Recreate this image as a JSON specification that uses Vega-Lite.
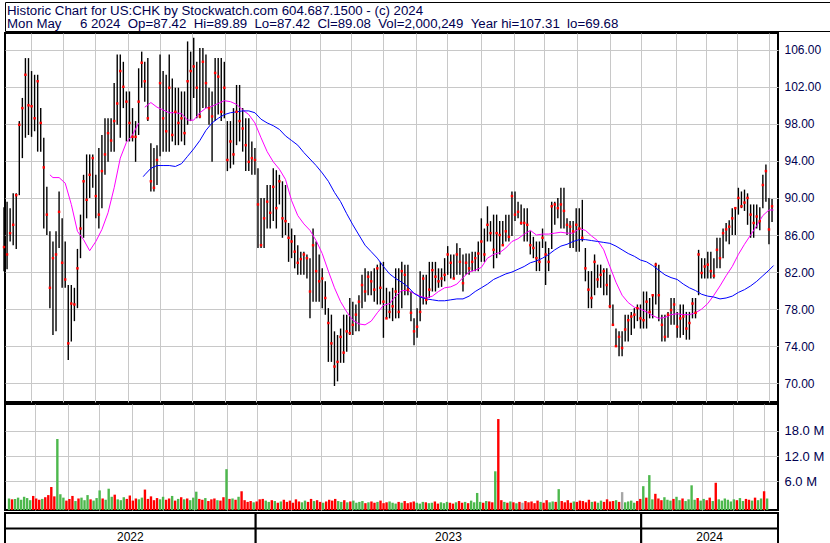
{
"$schema": "https://vega.github.io/schema/vega-lite/v6.json",
"padding": {"left": 1, "top": 1, "right": 0, "bottom": 0},
"background": "white",
"spacing": 0,
"config": {
  "font": "Liberation Sans",
  "view": {"stroke": "black", "strokeWidth": 2},
  "axis": {"gridColor": "#c8c8c8", "gridWidth": 1, "ticks": false, "domain": false, "labelFont": "Liberation Sans", "minExtent": 0}
},
"datasets": {
  "hdr": [
    {"line": 1, "txt": "Historic Chart for US:CHK by Stockwatch.com 604.687.1500 - (c) 2024"},
    {"line": 2, "txt": "Mon May\u00a0\u00a0\u00a0\u00a0 6 2024\u00a0\u00a0Op=87.42\u00a0\u00a0Hi=89.89\u00a0\u00a0Lo=87.42\u00a0\u00a0Cl=89.08\u00a0\u00a0Vol=2,000,249\u00a0\u00a0Year hi=107.31\u00a0\u00a0lo=69.68"}
  ],
  "years": [
    {"yr": "2022", "s": 0.65, "e": 164.5},
    {"yr": "2023", "s": 164.5, "e": 416.5},
    {"yr": "2024", "s": 416.5, "e": 505.9}
  ],
  "bars": [
{"d":0,"h":89.0,"l":82.1,"c":84.7,"v":2.0,"u":1},
{"d":2,"h":89.6,"l":82.3,"c":83.9,"v":1.8,"u":0},
{"d":4,"h":88.9,"l":85.3,"c":86.2,"v":1.9,"u":1},
{"d":6,"h":90.5,"l":84.9,"c":87.1,"v":2.2,"u":1},
{"d":8,"h":90.5,"l":84.5,"c":90.3,"v":1.7,"u":1},
{"d":10,"h":98.3,"l":90.3,"c":97.9,"v":2.4,"u":1},
{"d":12,"h":100.8,"l":94.3,"c":99.7,"v":2.1,"u":1},
{"d":14,"h":105.1,"l":96.5,"c":103.3,"v":1.6,"u":1},
{"d":16,"h":105.1,"l":96.8,"c":100.0,"v":2.6,"u":0},
{"d":18,"h":103.7,"l":96.6,"c":99.9,"v":2.0,"u":0},
{"d":20,"h":103.3,"l":97.2,"c":98.6,"v":1.7,"u":0},
{"d":22,"h":103.3,"l":95.0,"c":102.6,"v":1.9,"u":1},
{"d":24,"h":99.7,"l":95.0,"c":98.1,"v":2.3,"u":0},
{"d":26,"h":96.5,"l":86.7,"c":93.3,"v":2.8,"u":0},
{"d":28,"h":91.2,"l":86.0,"c":88.2,"v":4.7,"u":0},
{"d":30,"h":86.4,"l":78.1,"c":80.3,"v":2.5,"u":0},
{"d":32,"h":85.3,"l":75.2,"c":83.5,"v":16.0,"u":1},
{"d":34,"h":86.4,"l":75.6,"c":83.9,"v":3.0,"u":1},
{"d":36,"h":90.7,"l":84.6,"c":88.5,"v":2.2,"u":1},
{"d":38,"h":87.8,"l":80.3,"c":83.0,"v":1.5,"u":0},
{"d":40,"h":85.3,"l":80.3,"c":81.2,"v":1.9,"u":0},
{"d":42,"h":80.6,"l":72.5,"c":74.3,"v":2.6,"u":0},
{"d":44,"h":80.6,"l":74.5,"c":78.6,"v":1.4,"u":1},
{"d":46,"h":80.3,"l":76.7,"c":78.5,"v":2.0,"u":0},
{"d":48,"h":84.5,"l":78.1,"c":82.4,"v":2.2,"u":1},
{"d":50,"h":88.2,"l":83.5,"c":86.7,"v":1.6,"u":1},
{"d":52,"h":92.5,"l":85.7,"c":91.8,"v":2.8,"u":1},
{"d":54,"h":94.7,"l":87.8,"c":89.8,"v":1.8,"u":0},
{"d":56,"h":94.7,"l":90.0,"c":92.5,"v":1.5,"u":1},
{"d":58,"h":94.7,"l":91.1,"c":94.3,"v":2.1,"u":1},
{"d":60,"h":92.5,"l":87.8,"c":90.2,"v":3.9,"u":1},
{"d":62,"h":95.4,"l":86.7,"c":88.2,"v":2.0,"u":0},
{"d":64,"h":96.8,"l":88.9,"c":92.9,"v":1.7,"u":1},
{"d":66,"h":98.6,"l":92.5,"c":94.7,"v":4.3,"u":1},
{"d":68,"h":98.6,"l":93.9,"c":97.0,"v":2.4,"u":1},
{"d":70,"h":98.6,"l":95.0,"c":96.2,"v":2.9,"u":0},
{"d":72,"h":102.4,"l":95.0,"c":98.3,"v":1.8,"u":1},
{"d":74,"h":105.5,"l":97.9,"c":100.2,"v":1.6,"u":1},
{"d":76,"h":105.5,"l":96.5,"c":103.7,"v":2.3,"u":1},
{"d":78,"h":104.7,"l":99.7,"c":102.0,"v":1.9,"u":0},
{"d":80,"h":101.5,"l":96.1,"c":100.4,"v":2.7,"u":0},
{"d":82,"h":101.5,"l":96.1,"c":98.1,"v":1.5,"u":0},
{"d":84,"h":99.7,"l":96.1,"c":96.6,"v":2.0,"u":0},
{"d":86,"h":98.3,"l":93.9,"c":96.6,"v":1.8,"u":1},
{"d":88,"h":104.0,"l":96.8,"c":100.4,"v":2.2,"u":1},
{"d":90,"h":105.8,"l":101.9,"c":104.6,"v":4.1,"u":0},
{"d":92,"h":104.7,"l":100.4,"c":102.6,"v":1.9,"u":0},
{"d":94,"h":105.1,"l":98.3,"c":98.6,"v":2.5,"u":0},
{"d":96,"h":95.9,"l":90.7,"c":91.8,"v":1.6,"u":0},
{"d":98,"h":95.4,"l":90.7,"c":91.1,"v":2.1,"u":0},
{"d":100,"h":95.7,"l":91.4,"c":94.1,"v":1.8,"u":1},
{"d":102,"h":105.5,"l":94.5,"c":102.4,"v":2.4,"u":1},
{"d":104,"h":103.7,"l":95.0,"c":98.6,"v":1.7,"u":0},
{"d":106,"h":103.3,"l":95.0,"c":97.2,"v":2.0,"u":0},
{"d":108,"h":105.5,"l":95.0,"c":101.9,"v":2.6,"u":1},
{"d":110,"h":102.9,"l":96.1,"c":96.8,"v":1.5,"u":0},
{"d":112,"h":101.9,"l":95.7,"c":99.3,"v":1.9,"u":1},
{"d":114,"h":101.9,"l":95.7,"c":98.1,"v":2.3,"u":0},
{"d":116,"h":101.5,"l":96.1,"c":98.6,"v":1.8,"u":1},
{"d":118,"h":101.5,"l":95.7,"c":97.0,"v":2.0,"u":0},
{"d":120,"h":106.9,"l":97.9,"c":102.6,"v":1.6,"u":1},
{"d":122,"h":105.8,"l":98.3,"c":103.7,"v":2.2,"u":1},
{"d":124,"h":107.3,"l":100.8,"c":104.2,"v":3.6,"u":1},
{"d":126,"h":104.7,"l":98.6,"c":101.9,"v":1.9,"u":0},
{"d":128,"h":106.2,"l":98.6,"c":98.8,"v":1.7,"u":0},
{"d":130,"h":106.2,"l":99.7,"c":104.7,"v":2.1,"u":1},
{"d":132,"h":105.5,"l":99.7,"c":102.4,"v":1.4,"u":0},
{"d":134,"h":101.9,"l":97.9,"c":99.7,"v":1.8,"u":0},
{"d":136,"h":101.5,"l":93.9,"c":98.8,"v":2.0,"u":0},
{"d":138,"h":105.1,"l":98.3,"c":103.5,"v":1.6,"u":1},
{"d":140,"h":105.1,"l":99.0,"c":103.1,"v":1.5,"u":0},
{"d":142,"h":105.1,"l":98.3,"c":99.3,"v":2.3,"u":0},
{"d":144,"h":104.7,"l":98.6,"c":101.9,"v":8.9,"u":1},
{"d":146,"h":98.3,"l":92.9,"c":94.1,"v":1.9,"u":0},
{"d":148,"h":98.3,"l":93.2,"c":96.1,"v":2.0,"u":1},
{"d":150,"h":99.7,"l":93.6,"c":94.7,"v":1.7,"u":0},
{"d":152,"h":102.2,"l":95.7,"c":99.3,"v":2.4,"u":1},
{"d":154,"h":102.2,"l":96.1,"c":98.3,"v":3.7,"u":0},
{"d":156,"h":99.7,"l":95.0,"c":97.5,"v":1.6,"u":0},
{"d":158,"h":98.6,"l":92.9,"c":95.7,"v":1.2,"u":0},
{"d":160,"h":98.6,"l":92.9,"c":93.9,"v":1.4,"u":0},
{"d":162,"h":96.1,"l":92.5,"c":94.3,"v":1.1,"u":1},
{"d":164,"h":95.4,"l":92.5,"c":94.1,"v":1.3,"u":0},
{"d":166,"h":93.2,"l":84.6,"c":89.3,"v":1.8,"u":0},
{"d":168,"h":90.0,"l":84.6,"c":84.9,"v":1.9,"u":0},
{"d":170,"h":90.0,"l":84.6,"c":87.8,"v":1.5,"u":1},
{"d":172,"h":91.4,"l":86.7,"c":89.6,"v":1.2,"u":1},
{"d":174,"h":91.4,"l":86.7,"c":88.4,"v":1.6,"u":0},
{"d":176,"h":93.2,"l":87.5,"c":91.2,"v":1.4,"u":1},
{"d":178,"h":93.0,"l":86.7,"c":88.9,"v":1.0,"u":0},
{"d":180,"h":92.5,"l":89.3,"c":91.8,"v":1.3,"u":1},
{"d":182,"h":91.8,"l":85.7,"c":87.8,"v":1.7,"u":0},
{"d":184,"h":91.4,"l":86.0,"c":87.5,"v":1.2,"u":0},
{"d":186,"h":87.3,"l":83.1,"c":85.7,"v":1.5,"u":0},
{"d":188,"h":86.7,"l":83.5,"c":85.3,"v":1.0,"u":0},
{"d":190,"h":86.0,"l":82.4,"c":84.2,"v":1.8,"u":0},
{"d":192,"h":84.9,"l":81.7,"c":83.0,"v":1.3,"u":0},
{"d":194,"h":84.2,"l":81.7,"c":83.4,"v":1.1,"u":1},
{"d":196,"h":84.2,"l":81.7,"c":83.9,"v":1.5,"u":1},
{"d":198,"h":83.9,"l":81.3,"c":83.5,"v":1.2,"u":0},
{"d":200,"h":83.5,"l":77.0,"c":79.9,"v":1.9,"u":0},
{"d":202,"h":86.7,"l":78.8,"c":84.9,"v":1.4,"u":1},
{"d":204,"h":85.3,"l":78.8,"c":82.1,"v":1.6,"u":0},
{"d":206,"h":83.9,"l":78.8,"c":81.0,"v":1.2,"u":0},
{"d":208,"h":82.4,"l":78.1,"c":81.3,"v":1.0,"u":1},
{"d":210,"h":81.0,"l":77.4,"c":79.2,"v":1.3,"u":0},
{"d":212,"h":78.1,"l":72.3,"c":76.5,"v":1.7,"u":0},
{"d":214,"h":77.4,"l":72.3,"c":74.3,"v":1.5,"u":0},
{"d":216,"h":75.6,"l":69.7,"c":71.8,"v":1.9,"u":0},
{"d":218,"h":75.2,"l":70.2,"c":72.3,"v":1.4,"u":1},
{"d":220,"h":75.9,"l":72.2,"c":75.0,"v":1.2,"u":1},
{"d":222,"h":77.4,"l":72.2,"c":73.3,"v":1.6,"u":0},
{"d":224,"h":77.4,"l":73.4,"c":75.6,"v":1.1,"u":1},
{"d":226,"h":79.2,"l":75.2,"c":75.4,"v":1.3,"u":0},
{"d":228,"h":78.8,"l":75.2,"c":76.3,"v":1.5,"u":1},
{"d":230,"h":78.5,"l":75.6,"c":77.4,"v":1.0,"u":1},
{"d":232,"h":79.5,"l":75.6,"c":78.8,"v":1.2,"u":1},
{"d":234,"h":81.7,"l":78.1,"c":80.6,"v":1.4,"u":1},
{"d":236,"h":82.4,"l":78.8,"c":79.9,"v":0.9,"u":0},
{"d":238,"h":82.1,"l":79.5,"c":81.5,"v":1.1,"u":1},
{"d":240,"h":82.1,"l":79.5,"c":81.0,"v":1.3,"u":0},
{"d":242,"h":82.4,"l":78.8,"c":80.1,"v":1.0,"u":0},
{"d":244,"h":82.8,"l":78.5,"c":82.4,"v":1.2,"u":1},
{"d":246,"h":83.1,"l":78.5,"c":80.3,"v":1.5,"u":0},
{"d":248,"h":83.1,"l":74.9,"c":78.8,"v":0.9,"u":0},
{"d":250,"h":80.3,"l":77.0,"c":77.0,"v":1.1,"u":0},
{"d":252,"h":79.9,"l":77.0,"c":77.7,"v":1.3,"u":1},
{"d":254,"h":80.3,"l":76.7,"c":78.3,"v":1.0,"u":1},
{"d":256,"h":82.4,"l":77.0,"c":79.9,"v":0.8,"u":1},
{"d":258,"h":82.4,"l":77.0,"c":77.7,"v":1.2,"u":0},
{"d":260,"h":83.1,"l":78.1,"c":82.1,"v":1.0,"u":1},
{"d":262,"h":82.8,"l":79.5,"c":81.7,"v":1.4,"u":0},
{"d":264,"h":82.8,"l":79.5,"c":80.1,"v":0.9,"u":0},
{"d":266,"h":79.9,"l":76.7,"c":77.6,"v":1.1,"u":0},
{"d":268,"h":77.0,"l":74.1,"c":75.6,"v":1.3,"u":0},
{"d":270,"h":78.1,"l":74.9,"c":76.1,"v":1.0,"u":1},
{"d":272,"h":82.1,"l":76.7,"c":77.7,"v":0.8,"u":1},
{"d":274,"h":81.7,"l":78.5,"c":81.3,"v":1.2,"u":1},
{"d":276,"h":81.7,"l":78.5,"c":79.0,"v":1.1,"u":0},
{"d":278,"h":83.1,"l":79.2,"c":80.1,"v":0.9,"u":1},
{"d":280,"h":83.1,"l":79.9,"c":82.2,"v":1.0,"u":1},
{"d":282,"h":83.1,"l":79.9,"c":81.5,"v":1.3,"u":0},
{"d":284,"h":82.4,"l":80.3,"c":81.0,"v":0.8,"u":0},
{"d":286,"h":82.4,"l":80.4,"c":81.3,"v":1.1,"u":1},
{"d":288,"h":83.5,"l":81.0,"c":81.7,"v":0.9,"u":1},
{"d":290,"h":84.8,"l":81.7,"c":83.9,"v":1.2,"u":1},
{"d":292,"h":83.9,"l":81.3,"c":83.0,"v":1.0,"u":0},
{"d":294,"h":83.9,"l":81.3,"c":81.3,"v":0.8,"u":0},
{"d":296,"h":85.1,"l":81.7,"c":83.9,"v":1.1,"u":1},
{"d":298,"h":84.6,"l":81.7,"c":83.1,"v":1.4,"u":0},
{"d":300,"h":83.9,"l":79.9,"c":80.8,"v":1.0,"u":0},
{"d":302,"h":84.0,"l":81.7,"c":83.0,"v":1.2,"u":1},
{"d":304,"h":84.0,"l":81.7,"c":82.4,"v":0.9,"u":0},
{"d":306,"h":84.2,"l":82.1,"c":83.1,"v":1.5,"u":1},
{"d":308,"h":84.2,"l":82.1,"c":83.5,"v":1.1,"u":1},
{"d":310,"h":85.3,"l":82.1,"c":84.0,"v":3.3,"u":1},
{"d":312,"h":87.8,"l":83.1,"c":85.3,"v":1.2,"u":1},
{"d":314,"h":86.7,"l":83.1,"c":83.9,"v":1.0,"u":0},
{"d":316,"h":89.1,"l":85.3,"c":87.1,"v":1.4,"u":1},
{"d":318,"h":87.5,"l":85.3,"c":86.2,"v":1.3,"u":0},
{"d":320,"h":88.2,"l":82.4,"c":84.4,"v":1.1,"u":0},
{"d":322,"h":88.2,"l":83.5,"c":86.2,"v":8.4,"u":1},
{"d":324,"h":87.5,"l":83.9,"c":86.0,"v":20.7,"u":0},
{"d":326,"h":87.5,"l":84.9,"c":84.9,"v":1.6,"u":0},
{"d":328,"h":88.2,"l":85.3,"c":86.4,"v":1.2,"u":1},
{"d":330,"h":88.2,"l":85.3,"c":85.8,"v":1.0,"u":0},
{"d":332,"h":90.7,"l":85.9,"c":90.2,"v":1.3,"u":1},
{"d":334,"h":90.7,"l":87.5,"c":88.2,"v":1.1,"u":0},
{"d":336,"h":89.6,"l":87.8,"c":88.5,"v":0.9,"u":1},
{"d":338,"h":89.3,"l":87.1,"c":87.3,"v":1.2,"u":0},
{"d":340,"h":88.9,"l":85.3,"c":87.3,"v":1.0,"u":2},
{"d":342,"h":88.9,"l":85.3,"c":87.1,"v":1.4,"u":0},
{"d":344,"h":86.4,"l":83.9,"c":84.9,"v":1.1,"u":0},
{"d":346,"h":85.8,"l":83.5,"c":84.6,"v":1.3,"u":0},
{"d":348,"h":85.3,"l":82.1,"c":83.5,"v":0.9,"u":0},
{"d":350,"h":85.3,"l":82.1,"c":83.1,"v":1.5,"u":0},
{"d":352,"h":86.7,"l":84.6,"c":85.7,"v":1.2,"u":1},
{"d":354,"h":85.3,"l":80.6,"c":83.9,"v":1.0,"u":0},
{"d":356,"h":84.6,"l":82.1,"c":83.1,"v":1.6,"u":0},
{"d":358,"h":89.6,"l":84.5,"c":89.1,"v":1.1,"u":1},
{"d":360,"h":89.6,"l":87.1,"c":89.3,"v":1.3,"u":1},
{"d":362,"h":90.0,"l":87.8,"c":88.9,"v":1.2,"u":0},
{"d":364,"h":91.1,"l":86.7,"c":89.3,"v":4.2,"u":1},
{"d":366,"h":91.1,"l":86.7,"c":88.6,"v":1.4,"u":0},
{"d":368,"h":87.8,"l":86.0,"c":87.1,"v":1.1,"u":0},
{"d":370,"h":87.5,"l":84.6,"c":86.9,"v":1.6,"u":0},
{"d":372,"h":87.5,"l":84.6,"c":86.4,"v":1.0,"u":0},
{"d":374,"h":88.9,"l":84.2,"c":87.1,"v":1.3,"u":1},
{"d":376,"h":88.9,"l":84.2,"c":86.7,"v":1.2,"u":0},
{"d":378,"h":89.8,"l":85.3,"c":85.7,"v":1.5,"u":0},
{"d":380,"h":84.6,"l":81.0,"c":82.4,"v":1.4,"u":0},
{"d":382,"h":82.1,"l":78.1,"c":80.1,"v":1.1,"u":0},
{"d":384,"h":82.1,"l":78.1,"c":79.2,"v":1.7,"u":0},
{"d":386,"h":83.9,"l":79.5,"c":83.1,"v":1.2,"u":1},
{"d":388,"h":82.8,"l":80.3,"c":81.2,"v":1.3,"u":0},
{"d":390,"h":82.8,"l":80.3,"c":81.7,"v":1.0,"u":1},
{"d":392,"h":82.4,"l":79.5,"c":82.1,"v":1.5,"u":1},
{"d":394,"h":82.4,"l":79.5,"c":80.6,"v":1.2,"u":0},
{"d":396,"h":81.7,"l":78.1,"c":78.3,"v":1.8,"u":0},
{"d":398,"h":78.5,"l":76.3,"c":76.3,"v":1.3,"u":0},
{"d":400,"h":75.9,"l":74.0,"c":74.0,"v":1.4,"u":0},
{"d":402,"h":75.6,"l":72.9,"c":75.0,"v":1.6,"u":1},
{"d":404,"h":75.6,"l":72.9,"c":73.8,"v":1.2,"u":0},
{"d":406,"h":77.4,"l":74.5,"c":75.8,"v":3.5,"u":2},
{"d":408,"h":77.4,"l":74.5,"c":76.8,"v":1.1,"u":1},
{"d":410,"h":77.7,"l":75.2,"c":77.2,"v":1.3,"u":1},
{"d":412,"h":78.1,"l":75.9,"c":77.4,"v":1.5,"u":1},
{"d":414,"h":78.5,"l":76.7,"c":78.1,"v":1.0,"u":1},
{"d":416,"h":78.5,"l":75.9,"c":77.0,"v":1.4,"u":0},
{"d":418,"h":79.9,"l":75.9,"c":76.8,"v":1.9,"u":0},
{"d":420,"h":79.9,"l":75.9,"c":78.8,"v":4.9,"u":1},
{"d":422,"h":79.2,"l":77.0,"c":77.7,"v":2.2,"u":0},
{"d":424,"h":79.5,"l":77.0,"c":79.5,"v":7.5,"u":1},
{"d":426,"h":83.0,"l":78.5,"c":82.8,"v":1.8,"u":1},
{"d":428,"h":82.8,"l":76.7,"c":79.5,"v":3.1,"u":0},
{"d":430,"h":77.4,"l":74.5,"c":76.3,"v":2.0,"u":0},
{"d":432,"h":77.4,"l":74.5,"c":75.0,"v":1.6,"u":0},
{"d":434,"h":77.7,"l":74.9,"c":77.4,"v":2.3,"u":1},
{"d":436,"h":79.2,"l":76.3,"c":77.9,"v":1.7,"u":1},
{"d":438,"h":79.2,"l":76.3,"c":78.5,"v":1.5,"u":1},
{"d":440,"h":77.7,"l":74.9,"c":76.1,"v":1.9,"u":0},
{"d":442,"h":78.5,"l":74.9,"c":77.0,"v":2.4,"u":1},
{"d":444,"h":78.5,"l":75.2,"c":77.2,"v":1.6,"u":1},
{"d":446,"h":77.7,"l":74.7,"c":75.9,"v":2.0,"u":0},
{"d":448,"h":77.7,"l":74.7,"c":76.5,"v":1.4,"u":1},
{"d":450,"h":79.2,"l":77.0,"c":78.6,"v":1.8,"u":1},
{"d":452,"h":79.2,"l":77.0,"c":77.6,"v":5.1,"u":1},
{"d":454,"h":84.4,"l":79.5,"c":83.9,"v":1.7,"u":1},
{"d":456,"h":83.5,"l":81.3,"c":81.9,"v":2.1,"u":0},
{"d":458,"h":83.5,"l":81.3,"c":82.6,"v":1.5,"u":1},
{"d":460,"h":84.2,"l":81.3,"c":82.8,"v":1.9,"u":1},
{"d":462,"h":84.2,"l":81.3,"c":82.1,"v":1.6,"u":0},
{"d":464,"h":83.5,"l":81.3,"c":81.6,"v":2.2,"u":0},
{"d":466,"h":85.7,"l":82.4,"c":84.4,"v":1.4,"u":1},
{"d":468,"h":85.7,"l":82.4,"c":83.5,"v":5.7,"u":0},
{"d":470,"h":86.7,"l":83.5,"c":86.2,"v":1.8,"u":1},
{"d":472,"h":87.3,"l":85.3,"c":86.6,"v":1.5,"u":1},
{"d":474,"h":87.6,"l":85.0,"c":86.9,"v":2.0,"u":1},
{"d":476,"h":88.9,"l":86.0,"c":87.8,"v":1.7,"u":1},
{"d":478,"h":88.9,"l":86.0,"c":88.9,"v":1.3,"u":1},
{"d":480,"h":91.1,"l":88.2,"c":90.0,"v":1.8,"u":1},
{"d":482,"h":90.7,"l":88.9,"c":89.1,"v":1.6,"u":0},
{"d":484,"h":90.9,"l":88.6,"c":89.5,"v":2.1,"u":1},
{"d":486,"h":90.5,"l":87.1,"c":90.0,"v":1.4,"u":1},
{"d":488,"h":89.3,"l":85.7,"c":88.2,"v":1.9,"u":0},
{"d":490,"h":89.3,"l":85.7,"c":87.3,"v":1.7,"u":0},
{"d":492,"h":89.3,"l":86.7,"c":88.0,"v":1.5,"u":1},
{"d":494,"h":89.0,"l":86.5,"c":87.5,"v":2.2,"u":0},
{"d":496,"h":92.5,"l":88.9,"c":91.4,"v":1.6,"u":1},
{"d":498,"h":93.6,"l":89.6,"c":92.9,"v":2.0,"u":1},
{"d":500,"h":90.0,"l":85.0,"c":86.6,"v":3.7,"u":0},
{"d":502,"h":89.9,"l":87.4,"c":89.1,"v":2.0,"u":1}
  ],
  "ma": [
{"d":30,"m1":92.5},{"d":32,"m1":92.2},{"d":36,"m1":92.2},{"d":40,"m1":91.6},{"d":44,"m1":89.3},{"d":48,"m1":86.4},{"d":52,"m1":85.5},{"d":56,"m1":84.3},{"d":60,"m1":85.3},{"d":64,"m1":86.6},{"d":68,"m1":88.4},{"d":72,"m1":91.1},{"d":76,"m1":94.3},{"d":80,"m1":96.0},{"d":84,"m1":96.8},{"d":88,"m1":98.1},
{"d":91,"m2":92.3},
{"d":92,"m1":99.8,"m2":92.5},{"d":96,"m1":100.3,"m2":93.2},{"d":100,"m1":99.8,"m2":93.5},{"d":104,"m1":99.5,"m2":93.5},{"d":108,"m1":99.2,"m2":93.5},{"d":112,"m1":99.2,"m2":93.4},{"d":116,"m1":99.1,"m2":93.7},{"d":120,"m1":98.4,"m2":94.5},{"d":124,"m1":98.4,"m2":95.3},{"d":128,"m1":99.2,"m2":96.2},{"d":132,"m1":99.7,"m2":97.3},{"d":136,"m1":99.9,"m2":98.1},{"d":140,"m1":100.2,"m2":98.6},{"d":144,"m1":100.5,"m2":99.0},{"d":148,"m1":100.4,"m2":99.2},{"d":152,"m1":100.1,"m2":99.3},{"d":156,"m1":99.5,"m2":99.4},{"d":160,"m1":99.0,"m2":99.4},{"d":164,"m1":98.1,"m2":99.2},{"d":168,"m1":96.5,"m2":98.5},{"d":172,"m1":95.0,"m2":98.1},{"d":176,"m1":93.9,"m2":97.8},{"d":180,"m1":93.1,"m2":97.4},{"d":184,"m1":92.0,"m2":96.7},{"d":188,"m1":89.7,"m2":96.2},{"d":192,"m1":88.1,"m2":95.7},{"d":196,"m1":87.2,"m2":94.9},{"d":200,"m1":86.5,"m2":94.2},{"d":204,"m1":85.4,"m2":93.5},{"d":208,"m1":84.0,"m2":92.7},{"d":212,"m1":82.1,"m2":91.8},{"d":216,"m1":80.3,"m2":90.6},{"d":220,"m1":78.8,"m2":89.6},{"d":224,"m1":77.7,"m2":88.3},{"d":228,"m1":76.8,"m2":87.1},{"d":232,"m1":76.4,"m2":86.0},{"d":236,"m1":76.3,"m2":84.9},{"d":240,"m1":76.7,"m2":84.2},{"d":244,"m1":77.6,"m2":83.5},{"d":248,"m1":78.4,"m2":82.6},{"d":252,"m1":78.6,"m2":81.8},{"d":256,"m1":79.4,"m2":81.3},{"d":260,"m1":80.0,"m2":80.9},{"d":264,"m1":80.0,"m2":80.4},{"d":268,"m1":79.7,"m2":79.7},{"d":272,"m1":79.4,"m2":79.3},{"d":276,"m1":79.2,"m2":79.1},{"d":280,"m1":79.4,"m2":79.0},{"d":284,"m1":79.9,"m2":78.9},{"d":288,"m1":80.3,"m2":78.9},{"d":292,"m1":80.4,"m2":79.0},{"d":296,"m1":80.7,"m2":79.1},{"d":300,"m1":81.4,"m2":79.1},{"d":304,"m1":82.0,"m2":79.4},{"d":308,"m1":82.2,"m2":79.9},{"d":312,"m1":82.5,"m2":80.3},{"d":316,"m1":83.5,"m2":80.7},{"d":320,"m1":83.9,"m2":81.2},{"d":324,"m1":84.1,"m2":81.5},{"d":328,"m1":84.6,"m2":81.8},{"d":332,"m1":85.3,"m2":82.0},{"d":336,"m1":85.6,"m2":82.3},{"d":340,"m1":86.1,"m2":82.6},{"d":344,"m1":86.5,"m2":83.0},{"d":348,"m1":86.0,"m2":83.2},{"d":352,"m1":86.1,"m2":83.5},{"d":356,"m1":86.1,"m2":83.9},{"d":360,"m1":86.2,"m2":84.4},{"d":364,"m1":86.3,"m2":84.8},{"d":368,"m1":86.2,"m2":85.0},{"d":372,"m1":86.2,"m2":85.3},{"d":376,"m1":86.7,"m2":85.5},{"d":380,"m1":86.5,"m2":85.5},{"d":384,"m1":85.9,"m2":85.4},{"d":388,"m1":85.4,"m2":85.3},{"d":392,"m1":84.4,"m2":85.2},{"d":396,"m1":82.6,"m2":85.1},{"d":400,"m1":80.9,"m2":84.8},{"d":404,"m1":79.5,"m2":84.4},{"d":408,"m1":78.7,"m2":84.0},{"d":412,"m1":78.2,"m2":83.7},{"d":416,"m1":78.0,"m2":83.3},{"d":420,"m1":77.7,"m2":83.1},{"d":424,"m1":77.3,"m2":82.7},{"d":428,"m1":77.0,"m2":82.2},{"d":432,"m1":77.1,"m2":81.7},{"d":436,"m1":77.4,"m2":81.4},{"d":440,"m1":77.5,"m2":81.2},{"d":444,"m1":77.4,"m2":80.7},{"d":448,"m1":77.4,"m2":80.3},{"d":452,"m1":77.6,"m2":80.0},{"d":456,"m1":78.0,"m2":79.6},{"d":460,"m1":78.6,"m2":79.4},{"d":464,"m1":79.5,"m2":79.3},{"d":468,"m1":80.5,"m2":79.1},{"d":472,"m1":81.6,"m2":79.2},{"d":476,"m1":82.6,"m2":79.4},{"d":480,"m1":83.9,"m2":79.8},{"d":484,"m1":85.0,"m2":80.1},{"d":488,"m1":86.0,"m2":80.5},{"d":492,"m1":87.0,"m2":81.0},{"d":496,"m1":88.1,"m2":81.6},{"d":500,"m1":88.7,"m2":82.2},{"d":503,"m1":88.7,"m2":82.7}
  ],
  "plabel": [{"t": "US:CHK"}],
  "vlabel": [{"t": "Volume"}]
},
"vconcat": [
  {
    "width": 827, "height": 29,
    "view": {"stroke": "black", "strokeWidth": 1},
    "data": {"name": "hdr"},
    "mark": {"type": "text", "align": "left", "baseline": "middle", "fontSize": 13.25, "color": "#000050", "dx": 2, "dy": 1},
    "encoding": {
      "x": {"datum": 0, "type": "quantitative", "scale": {"domain": [0, 1]}, "axis": null},
      "y": {"field": "line", "type": "ordinal", "axis": null, "scale": {"type": "point", "padding": 0.65}},
      "text": {"field": "txt"}
    }
  },
  {
    "width": 773, "height": 369,
    "encoding": {
      "x": {"field": "d", "type": "quantitative", "title": null,
        "scale": {"domain": [0.65, 505.9], "nice": false, "zero": false},
        "axis": {"grid": true, "labels": false, "ticks": false, "domain": false, "values": [17.45,38.76,59.28,81.24,101.76,122.68,144.25,164.51,186.73,206.34,226.99,247.52,269.48,289.74,311.57,333.33,352.75,374.71,396.08,416.54,439.02,459.02,479.28,500.0]}}
    },
    "layer": [
      {
        "data": {"name": "plabel"},
        "mark": {"type": "rect", "color": "white"},
        "encoding": {
          "x": {"datum": 1.3, "type": "quantitative"}, "x2": {"datum": 37.8},
          "y": {"datum": 106.1, "type": "quantitative", "title": null,
            "scale": {"domain": [67.97, 107.81], "nice": false, "zero": false},
            "axis": {"orient": "right", "values": [70,72,74,76,78,80,82,84,86,88,90,92,94,96,98,100,102,104,106], "format": ".2f", "grid": true, "ticks": false, "domain": false, "labelFontSize": 12, "labelColor": "#000050", "labelPadding": 6, "title": null}},
          "y2": {"datum": 107.81}
        }
      },
      {
        "data": {"name": "plabel"},
        "mark": {"type": "text", "align": "left", "baseline": "middle", "fontSize": 13, "color": "#000050"},
        "encoding": {
          "x": {"datum": 5.9, "type": "quantitative"},
          "y": {"datum": 106.85, "type": "quantitative"},
          "text": {"field": "t"}
        }
      },
      {
        "data": {"name": "bars"},
        "mark": {"type": "rule", "color": "black", "strokeWidth": 1.4},
        "encoding": {"y": {"field": "l", "type": "quantitative", "title": null}, "y2": {"field": "h"}}
      },
      {
        "data": {"name": "ma"},
        "mark": {"type": "line", "color": "#ff00ff", "strokeWidth": 1},
        "encoding": {"y": {"field": "m1", "type": "quantitative", "title": null}}
      },
      {
        "data": {"name": "ma"},
        "mark": {"type": "line", "color": "#0000ff", "strokeWidth": 1},
        "encoding": {"y": {"field": "m2", "type": "quantitative", "title": null}}
      },
      {
        "data": {"name": "bars"},
        "mark": {"type": "square", "color": "#ff0000", "size": 6, "opacity": 1, "filled": true},
        "encoding": {"y": {"field": "c", "type": "quantitative", "title": null}}
      }
    ]
  },
  {
    "width": 773, "height": 106,
    "encoding": {
      "x": {"field": "d", "type": "quantitative", "title": null,
        "scale": {"domain": [0.65, 505.9], "nice": false, "zero": false},
        "axis": {"grid": true, "labels": false, "ticks": false, "domain": false, "values": [17.45,38.76,59.28,81.24,101.76,122.68,144.25,164.51,186.73,206.34,226.99,247.52,269.48,289.74,311.57,333.33,352.75,374.71,396.08,416.54,439.02,459.02,479.28,500.0]}}
    },
    "layer": [
      {
        "data": {"name": "bars"},
        "mark": {"type": "bar", "size": 2.4},
        "encoding": {
          "y": {"field": "v", "type": "quantitative", "title": null,
            "scale": {"domain": [-0.71, 24.24], "nice": false, "zero": false},
            "axis": {"orient": "right", "values": [6, 12, 18], "labelExpr": "format(datum.value, '.1f') + ' M'", "grid": true, "ticks": false, "domain": false, "labelFontSize": 13, "labelColor": "#000050", "labelPadding": 6, "title": null}},
          "y2": {"datum": -0.71},
          "color": {"field": "u", "type": "nominal", "scale": {"domain": [0, 1, 2], "range": ["#ff0000", "#4db84d", "#a6a6a6"]}, "legend": null}
        }
      },
      {
        "data": {"name": "vlabel"},
        "mark": {"type": "text", "align": "left", "baseline": "middle", "fontSize": 13, "color": "#000050"},
        "encoding": {
          "x": {"datum": 5.9, "type": "quantitative"},
          "y": {"datum": 21.7, "type": "quantitative"},
          "text": {"field": "t"}
        }
      }
    ]
  },
  {
    "width": 773, "height": 31,
    "data": {"name": "years"},
    "transform": [{"calculate": "(datum.s + datum.e) / 2", "as": "mid"}],
    "layer": [
      {
        "mark": {"type": "rect", "fill": "white", "stroke": "black", "strokeWidth": 2},
        "encoding": {
          "x": {"field": "s", "type": "quantitative", "title": null, "scale": {"domain": [0.65, 505.9], "nice": false, "zero": false}, "axis": null},
          "x2": {"field": "e"},
          "y": {"datum": 0, "type": "quantitative", "scale": {"domain": [0, 2], "nice": false}, "axis": null},
          "y2": {"datum": 2}
        }
      },
      {
        "mark": {"type": "rule", "color": "black", "strokeWidth": 2},
        "encoding": {
          "x": {"field": "s", "type": "quantitative"},
          "x2": {"field": "e"},
          "y": {"datum": 1, "type": "quantitative"}
        }
      },
      {
        "mark": {"type": "text", "fontSize": 12, "color": "black", "baseline": "middle", "align": "center"},
        "encoding": {
          "x": {"field": "mid", "type": "quantitative"},
          "y": {"datum": 0.45, "type": "quantitative"},
          "text": {"field": "yr"}
        }
      }
    ]
  }
]
}
